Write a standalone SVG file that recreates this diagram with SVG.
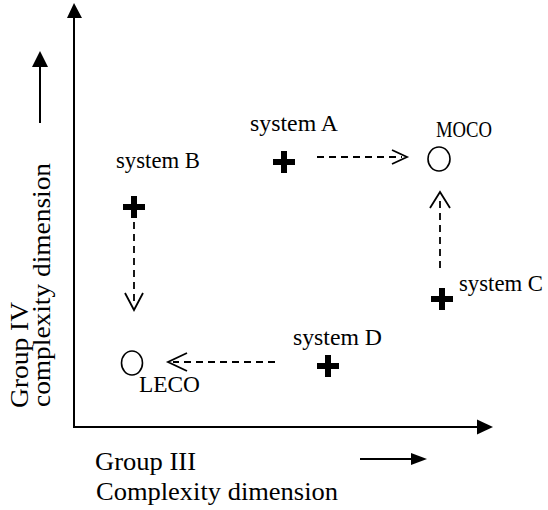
<svg xmlns="http://www.w3.org/2000/svg" width="548" height="510" viewBox="0 0 548 510">
  <style>
    .axis { stroke: #000; stroke-width: 2; fill: none; }
    .flow { stroke: #000; stroke-width: 1.8; fill: none; stroke-dasharray: 7 5; }
    .head { stroke: #000; stroke-width: 1.8; fill: none; }
    .plus { fill: #000; }
    .pt { fill: none; stroke: #000; stroke-width: 1.6; }
    .lbl { font-family: "Liberation Serif", "Times New Roman", serif; font-size: 23px; fill: #000; }
    .ax { font-family: "Liberation Serif", "Times New Roman", serif; font-size: 25px; fill: #000; }
  </style>
  <defs>
    <path id="cross" d="M-3,-11 H3 V-3 H11 V3 H3 V11 H-3 V3 H-11 V-3 H-3 Z"/>
  </defs>

  <!-- axes -->
  <g id="axes">
    <line class="axis" x1="74" y1="428" x2="74" y2="16"/>
    <polygon points="74,3 67,18 82,18" fill="#000"/>
    <line class="axis" x1="73" y1="427" x2="479" y2="427"/>
    <polygon points="493,427 477,419.5 477,434.5" fill="#000"/>
    <!-- direction hints -->
    <line class="axis" x1="40" y1="123" x2="40" y2="64"/>
    <polygon points="40,51 32,67 48,67" fill="#000"/>
    <line class="axis" x1="360" y1="459" x2="414" y2="459"/>
    <polygon points="427,459 411,453 411,465" fill="#000"/>
  </g>

  <!-- axis captions -->
  <g id="y-caption">
    <text class="ax" transform="translate(28,408) rotate(-90)" textLength="106" lengthAdjust="spacingAndGlyphs">Group IV</text>
    <text class="ax" transform="translate(50,407) rotate(-90)" textLength="244" lengthAdjust="spacingAndGlyphs">complexity dimension</text>
  </g>
  <g id="x-caption">
    <text class="ax" x="95" y="470" textLength="101" lengthAdjust="spacingAndGlyphs">Group III</text>
    <text class="ax" x="96" y="500" textLength="242" lengthAdjust="spacingAndGlyphs">Complexity dimension</text>
  </g>

  <!-- systems -->
  <g id="system-a">
    <use href="#cross" class="plus" x="284" y="162"/>
    <text class="lbl" x="250" y="131" textLength="88" lengthAdjust="spacingAndGlyphs">system A</text>
  </g>
  <g id="system-b">
    <use href="#cross" class="plus" x="134" y="207"/>
    <text class="lbl" x="116" y="168" textLength="84" lengthAdjust="spacingAndGlyphs">system B</text>
  </g>
  <g id="system-c">
    <use href="#cross" class="plus" x="442" y="299"/>
    <text class="lbl" x="459" y="291" textLength="84" lengthAdjust="spacingAndGlyphs">system C</text>
  </g>
  <g id="system-d">
    <use href="#cross" class="plus" x="328" y="366"/>
    <text class="lbl" x="293" y="345" textLength="89" lengthAdjust="spacingAndGlyphs">system D</text>
  </g>
  <g id="moco">
    <ellipse class="pt" cx="439" cy="159" rx="11" ry="12"/>
    <text class="lbl" x="436" y="137" textLength="56" lengthAdjust="spacingAndGlyphs">MOCO</text>
  </g>
  <g id="leco">
    <ellipse class="pt" cx="132" cy="363" rx="10.5" ry="12"/>
    <text class="lbl" x="139" y="392" textLength="61" lengthAdjust="spacingAndGlyphs">LECO</text>
  </g>

  <!-- transitions -->
  <g id="connectors">
    <line class="flow" x1="317" y1="157" x2="402" y2="157"/>
    <polyline class="head" points="392,150 407,157 392,164"/>
    <line class="flow" x1="440" y1="268" x2="440" y2="196"/>
    <polyline class="head" points="430,208 440,192 450,208"/>
    <line class="flow" x1="134" y1="222" x2="134" y2="305"/>
    <polyline class="head" points="125,293 134,310 143,293"/>
    <line class="flow" x1="275" y1="362" x2="173" y2="362"/>
    <polyline class="head" points="187,353 168,362 187,371"/>
  </g>
</svg>
